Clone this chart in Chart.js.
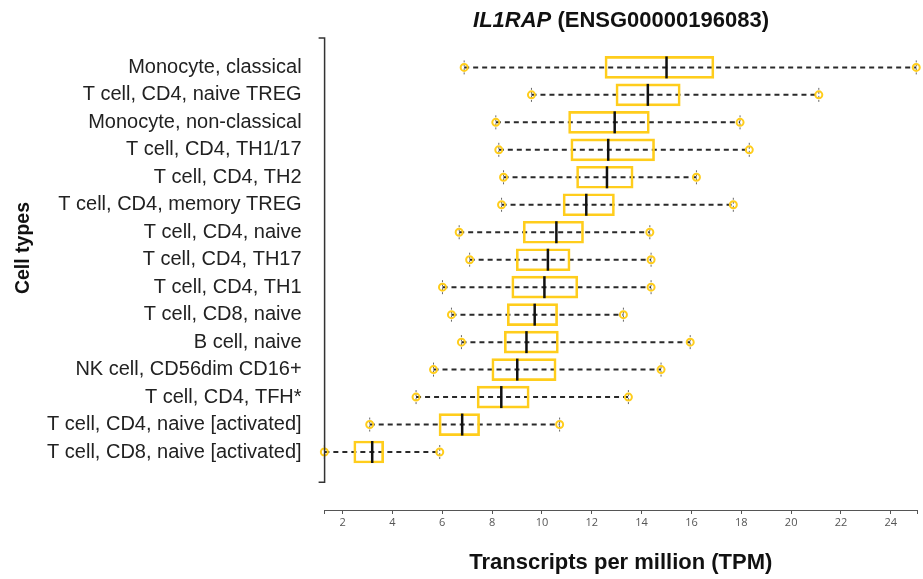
<!DOCTYPE html>
<html>
<head>
<meta charset="utf-8">
<script src="https://cdn.jsdelivr.net/npm/chart.js@4.4.1/dist/chart.umd.min.js"></script>
<style>
  body { margin: 0; background: #fff; }
</style>
</head>
<body>
<canvas id="chart" width="923" height="579"></canvas>
<script>
// cell types, top to bottom
var cellTypes = [
  'Monocyte, classical',
  'T cell, CD4, naive TREG',
  'Monocyte, non-classical',
  'T cell, CD4, TH1/17',
  'T cell, CD4, TH2',
  'T cell, CD4, memory TREG',
  'T cell, CD4, naive',
  'T cell, CD4, TH17',
  'T cell, CD4, TH1',
  'T cell, CD8, naive',
  'B cell, naive',
  'NK cell, CD56dim CD16+',
  'T cell, CD4, TFH*',
  'T cell, CD4, naive [activated]',
  'T cell, CD8, naive [activated]'
];
// box plot stats (TPM)
var whiskerLow  = [6.88, 9.58, 8.15, 8.27, 8.46, 8.38, 6.68, 7.10, 6.01, 6.37, 6.77, 5.65, 4.95, 3.09, 1.27];
var q1          = [12.53, 12.97, 11.07, 11.16, 11.39, 10.85, 9.25, 8.97, 8.79, 8.61, 8.49, 7.99, 7.40, 5.87, 2.45];
var median      = [15.00, 14.25, 12.92, 12.66, 12.61, 11.78, 10.58, 10.24, 10.10, 9.71, 9.38, 9.01, 8.37, 6.80, 3.19];
var q3          = [16.90, 15.55, 14.31, 14.52, 13.66, 12.91, 11.67, 11.13, 11.44, 10.63, 10.66, 10.57, 9.49, 7.50, 3.65];
var whiskerHigh = [25.02, 21.11, 17.95, 18.32, 16.20, 17.68, 14.33, 14.38, 14.38, 13.27, 15.95, 14.78, 13.47, 10.71, 5.90];

var xTicks = [2, 4, 6, 8, 10, 12, 14, 16, 18, 20, 22, 24];
var xMin = 1.28, xMax = 25.05;
var yMin = -0.07, yMax = 17.11, bracketEnd = 16.1;

var GOLD = '#FFCD1C';
var BOX_H = 22;

var boxData = [], lowPts = [], highPts = [];
for (var i = 0; i < cellTypes.length; i++) {
  boxData.push({ y: i + 1, x: [q1[i], q3[i]] });
  lowPts.push({ x: whiskerLow[i], y: i + 1 });
  highPts.push({ x: whiskerHigh[i], y: i + 1 });
}

var boxExtras = {
  id: 'boxExtras',
  beforeDatasetsDraw: function (chart) {
    var ctx = chart.ctx, xs = chart.scales.x, ys = chart.scales.y;
    ctx.save();
    for (var i = 0; i < cellTypes.length; i++) {
      var y = ys.getPixelForValue(i + 1);
      var x0 = xs.getPixelForValue(whiskerLow[i]);
      var x1 = xs.getPixelForValue(whiskerHigh[i]);
      // dashed whisker
      ctx.strokeStyle = '#2a2a2a';
      ctx.lineWidth = 2;
      ctx.setLineDash([5, 4]);
      ctx.beginPath();
      ctx.moveTo(x0, y);
      ctx.lineTo(x1, y);
      ctx.stroke();
      // caps
      ctx.setLineDash([2, 2]);
      ctx.strokeStyle = '#666';
      ctx.lineWidth = 1;
      ctx.beginPath();
      ctx.moveTo(x0, y - 7); ctx.lineTo(x0, y + 7);
      ctx.moveTo(x1, y - 7); ctx.lineTo(x1, y + 7);
      ctx.stroke();
    }
    ctx.restore();
  },
  afterDatasetsDraw: function (chart) {
    var ctx = chart.ctx, xs = chart.scales.x, ys = chart.scales.y;
    ctx.save();
    ctx.strokeStyle = '#111';
    ctx.lineWidth = 2.5;
    for (var i = 0; i < cellTypes.length; i++) {
      var y = ys.getPixelForValue(i + 1);
      var xm = xs.getPixelForValue(median[i]);
      ctx.beginPath();
      ctx.moveTo(xm, y - BOX_H / 2);
      ctx.lineTo(xm, y + BOX_H / 2);
      ctx.stroke();
    }
    ctx.restore();
  },
  afterDraw: function (chart) {
    var ctx = chart.ctx, ys = chart.scales.y, area = chart.chartArea;
    ctx.save();
    // y axis bracket
    var yb = ys.getPixelForValue(bracketEnd);
    ctx.strokeStyle = '#333';
    ctx.lineWidth = 1.5;
    ctx.beginPath();
    ctx.moveTo(area.left - 6, area.top);
    ctx.lineTo(area.left, area.top);
    ctx.lineTo(area.left, yb);
    ctx.lineTo(area.left - 6, yb);
    ctx.stroke();

    // title, gene symbol in italics
    ctx.fillStyle = '#111';
    ctx.textBaseline = 'alphabetic';
    var f1 = 'italic bold 22px "Liberation Sans", Arial, sans-serif';
    var f2 = 'bold 22px "Liberation Sans", Arial, sans-serif';
    var t1 = 'IL1RAP', t2 = ' (ENSG00000196083)';
    ctx.font = f1; var w1 = ctx.measureText(t1).width;
    ctx.font = f2; var w2 = ctx.measureText(t2).width;
    var tx = 621 - (w1 + w2) / 2;
    ctx.textAlign = 'left';
    ctx.font = f1; ctx.fillText(t1, tx, 27);
    ctx.font = f2; ctx.fillText(t2, tx + w1, 27);

    // y axis title
    ctx.translate(24, 248);
    ctx.rotate(-Math.PI / 2);
    ctx.textAlign = 'center';
    ctx.textBaseline = 'middle';
    ctx.font = 'bold 19.5px "Liberation Sans", Arial, sans-serif';
    ctx.fillText('Cell types', 0, 0);
    ctx.restore();
  }
};

Chart.defaults.font.family = '"Liberation Sans", Arial, sans-serif';

new Chart(document.getElementById('chart').getContext('2d'), {
  type: 'bar',
  data: {
    datasets: [
      {
        type: 'scatter',
        data: lowPts,
        pointStyle: 'circle',
        pointRadius: 3.5,
        borderColor: GOLD,
        backgroundColor: 'rgba(0,0,0,0)',
        borderWidth: 2,
        clip: false
      },
      {
        type: 'scatter',
        data: highPts,
        pointStyle: 'circle',
        pointRadius: 3.5,
        borderColor: GOLD,
        backgroundColor: 'rgba(0,0,0,0)',
        borderWidth: 2,
        clip: false
      },
      {
        type: 'bar',
        data: boxData,
        barThickness: BOX_H,
        borderColor: GOLD,
        backgroundColor: 'rgba(0,0,0,0)',
        borderWidth: 2,
        borderSkipped: false,
        clip: false
      }
    ]
  },
  options: {
    indexAxis: 'y',
    responsive: false,
    animation: false,
    devicePixelRatio: 1,
    layout: { padding: { top: 38, right: 3, bottom: 0, left: 0 } },
    plugins: {
      legend: { display: false },
      tooltip: { enabled: false }
    },
    scales: {
      x: {
        type: 'linear',
        min: xMin,
        max: xMax,
        afterBuildTicks: function (scale) {
          var t = [{ value: xMin }];
          xTicks.forEach(function (v) { t.push({ value: v }); });
          t.push({ value: xMax });
          scale.ticks = t;
        },
        afterFit: function (scale) { scale.height = 69; },
        ticks: {
          autoSkip: false,
          maxRotation: 0,
          padding: 2,
          color: '#555',
          font: { family: '"Open Sans", sans-serif', size: 11 },
          callback: function (v) { return xTicks.indexOf(v) >= 0 ? String(v) : ''; }
        },
        grid: {
          display: true,
          drawOnChartArea: false,
          drawTicks: true,
          tickLength: 4,
          color: '#555',
          lineWidth: 1
        },
        border: { display: true, color: '#555', width: 1 },
        title: {
          display: true,
          text: 'Transcripts per million (TPM)',
          color: '#111',
          font: { size: 22, weight: 'bold' },
          padding: { top: 0, bottom: 3 }
        }
      },
      y: {
        type: 'linear',
        reverse: true,
        offset: false,
        min: yMin,
        max: yMax,
        afterBuildTicks: function (scale) {
          scale.ticks = cellTypes.map(function (c, i) { return { value: i + 1 }; });
        },
        afterFit: function (scale) { scale.width = 324.6; },
        ticks: {
          autoSkip: false,
          padding: 23,
          color: '#222',
          font: { size: 20 },
          callback: function (v) { return cellTypes[v - 1]; }
        },
        grid: { display: false, drawTicks: false },
        border: { display: false }
      }
    }
  },
  plugins: [boxExtras]
});
</script>
</body>
</html>
